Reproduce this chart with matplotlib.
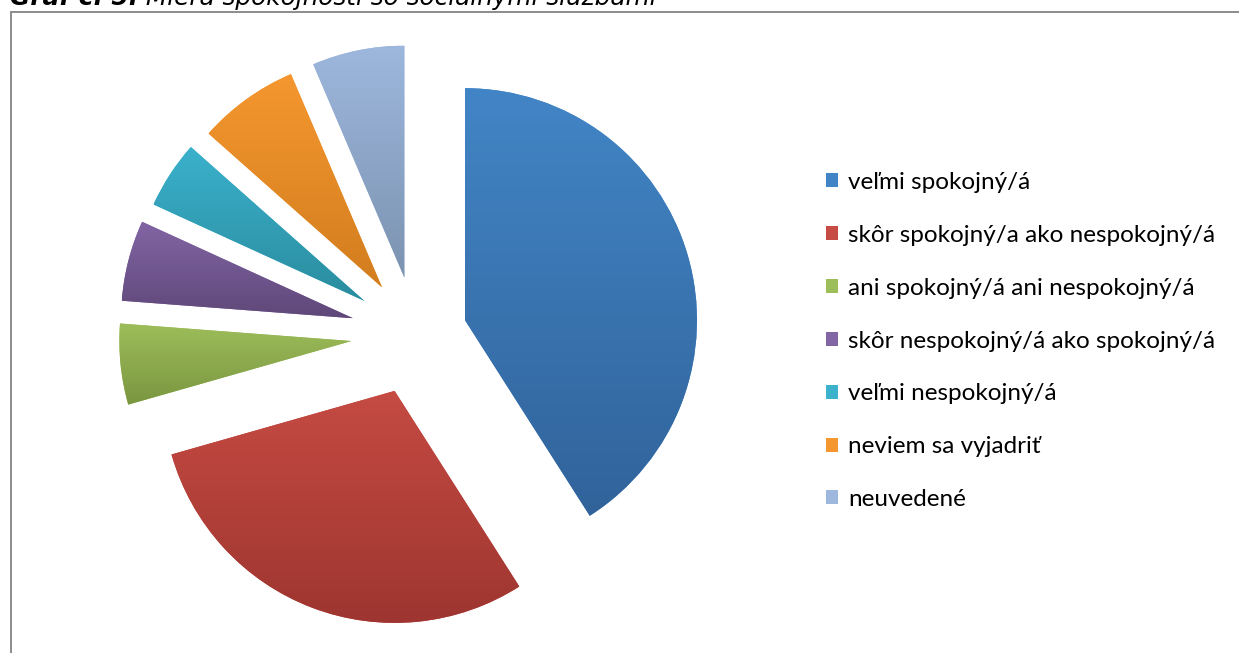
import numpy as np
import matplotlib
matplotlib.use("Agg")
import matplotlib.pyplot as plt
from matplotlib.patches import Rectangle
from matplotlib.colors import LinearSegmentedColormap

# data (share of respondents, %)
labels = [
    "veľmi spokojný/á",
    "skôr spokojný/a ako nespokojný/á",
    "ani spokojný/á ani nespokojný/á",
    "skôr nespokojný/á ako spokojný/á",
    "veľmi nespokojný/á",
    "neviem sa vyjadriť",
    "neuvedené",
]
values = [40.8, 29.5, 5.6, 5.6, 4.7, 7.0, 6.4]

top_colors = ["#4285c6", "#c54b43", "#9dbd5a", "#8265a4", "#3bb1cc", "#f5972f", "#9db7dd"]
bottom_colors = ["#31639a", "#9e3530", "#7a9640", "#5f4879", "#2a8c9e", "#d27d1f", "#7c93b0"]
explode = [0.22, 0.26, 0.28, 0.28, 0.265, 0.25, 0.25]

W, H = 1239, 653
R = 232
fig = plt.figure(figsize=(W / 100, H / 100), dpi=100)
ax = fig.add_axes([0, 0, 1, 1])

# pie() offsets wedges by explode in data units, so scale by the radius
wedges, _ = ax.pie(values, colors=top_colors, explode=[e * R for e in explode],
                   startangle=90, counterclock=False, center=(416, H - 334.5),
                   radius=R, frame=False)
ax.set_xlim(0, W)
ax.set_ylim(0, H)
ax.set_aspect("equal")
ax.axis("off")

# vertical gradient inside each slice
for w, c1, c2 in zip(wedges, top_colors, bottom_colors):
    ext = w.get_path().get_extents()
    cmap = LinearSegmentedColormap.from_list("g", [c2, c1])
    grad = np.linspace(0, 1, 256).reshape(-1, 1)
    im = ax.imshow(grad, cmap=cmap, origin="lower", aspect="auto",
                   extent=(ext.x0, ext.x1, ext.y0, ext.y1), interpolation="bicubic",
                   zorder=w.get_zorder() + 0.1)
    im.set_clip_path(w)
    w.set_facecolor(c1)
    w.set_edgecolor("none")

ax.set_xlim(0, W)
ax.set_ylim(0, H)

handles = [Rectangle((0, 0), 1, 1, facecolor=c, edgecolor="none") for c in top_colors]
leg = ax.legend(handles, labels, loc="upper left",
                bbox_to_anchor=(826 / W, 1 - 172 / H), bbox_transform=fig.transFigure,
                frameon=False, prop={"family": "Lato", "size": 17.5},
                handlelength=0.5, handleheight=0.5, handletextpad=0.4,
                labelspacing=1.31, borderpad=0, borderaxespad=0)

# chart frame (partly outside the picture)
fig.add_artist(Rectangle((11 / W, -0.1), 2, 1 - 12 / H + 0.1, transform=fig.transFigure,
                         fill=False, edgecolor="#8c8c8c", lw=1.4))

# title, cut at the top edge like in the source
t1 = fig.text(10 / W, 1 - 5 / H, "Graf č. 5:", fontsize=17.8, fontweight="bold",
              fontstyle="italic", family="DejaVu Sans", va="baseline")
ax.annotate(" Miera spokojnosti so sociálnymi službami", xy=(1, 0), xycoords=t1,
            va="bottom", ha="left", fontsize=17.8, fontstyle="italic", family="DejaVu Sans",
            annotation_clip=False)

fig.savefig("out.png", dpi=100)
